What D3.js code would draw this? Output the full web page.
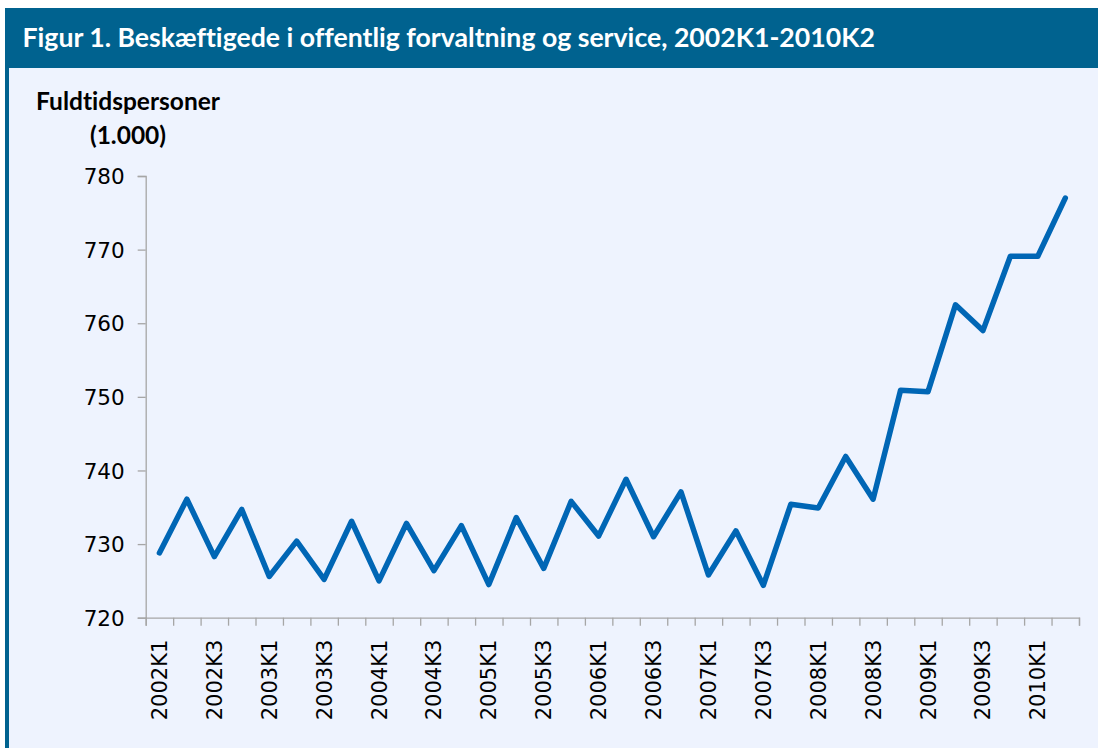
<!DOCTYPE html>
<html>
<head>
<meta charset="utf-8">
<script src="https://cdn.jsdelivr.net/npm/d3@7"></script>
<style>
  html, body { margin: 0; padding: 0; background: #ffffff; }
  svg { display: block; }
  text { font-variant-ligatures: none; font-feature-settings: "liga" 0, "clig" 0; }
</style>
</head>
<body>
<svg id="chart" width="1098" height="748"></svg>
<script>
const titleText = "Figur 1. Beskæftigede i offentlig forvaltning og service, 2002K1-2010K2";
const yLabelLines = ["Fuldtidspersoner", "(1.000)"];

const years = [2002, 2003, 2004, 2005, 2006, 2007, 2008, 2009, 2010];
const categories = [];
years.forEach(y => { for (let q = 1; q <= 4; q++) { if (y === 2010 && q > 2) break; categories.push(y + "K" + q); } });

const values = [
  728.8, 736.1, 728.3, 734.7, 725.6, 730.4, 725.2, 733.1,
  725.0, 732.8, 726.4, 732.5, 724.5, 733.6, 726.7, 735.8,
  731.1, 738.8, 731.0, 737.1, 725.8, 731.8, 724.4, 735.4,
  734.9, 741.9, 736.1, 750.9, 750.7, 762.5, 759.0, 769.1,
  769.1, 777.0
];

const yTicks = [720, 730, 740, 750, 760, 770, 780];

const svg = d3.select("#chart");
const W = 1098, H = 748;

// background panel
svg.append("rect").attr("x", 5).attr("y", 8).attr("width", W - 5).attr("height", H - 8).attr("fill", "#eef3fe");
svg.append("rect").attr("x", 5).attr("y", 8).attr("width", 4).attr("height", H - 8).attr("fill", "#00628f");
svg.append("rect").attr("x", 5).attr("y", 8).attr("width", W - 5).attr("height", 60).attr("fill", "#00628f");

// title
const title = svg.append("text")
  .attr("x", 22.5).attr("y", 46.5)
  .attr("fill", "#ffffff")
  .attr("font-family", "Lato, 'Open Sans', sans-serif")
  .attr("font-weight", "bold")
  .attr("font-size", 24)
  .text(titleText);
{
  const w = title.node().getComputedTextLength();
  title.attr("font-size", 24 * 853 / w);
}

// y label
const yl = yLabelLines.map((t, i) => svg.append("text")
    .attr("x", 128).attr("y", i === 0 ? 110 : 144)
    .attr("text-anchor", "middle")
    .attr("fill", "#000000")
    .attr("font-family", "Lato, 'Open Sans', sans-serif")
    .attr("font-weight", "bold")
    .attr("font-size", 20)
    .text(t));
{
  const w = yl[0].node().getComputedTextLength();
  const fs = 20 * 184 / w;
  yl.forEach(el => el.attr("font-size", fs));
}

const x0 = 145.7, x1 = 1079, yTop = 176, yBot = 617.7;

const x = d3.scaleBand().domain(categories).range([x0, x1]).paddingInner(0).paddingOuter(0);
const xEdge = d3.scaleLinear().domain([0, categories.length]).range([x0, x1]);
const y = d3.scaleLinear().domain([720, 780]).range([yBot, yTop]);

const axisColor = "#a6a6a6";

// Y axis
const yAxis = svg.append("g")
  .attr("transform", `translate(${x0},0)`)
  .call(d3.axisLeft(y).tickValues(yTicks).tickSize(8).tickPadding(13).tickFormat(d3.format("d")));
yAxis.select(".domain").attr("stroke", axisColor).attr("stroke-width", 1.3);
yAxis.selectAll(".tick line").attr("stroke", axisColor).attr("stroke-width", 1.3);
yAxis.selectAll(".tick text")
  .attr("font-family", "'DejaVu Sans', sans-serif")
  .attr("font-size", 21.5)
  .attr("fill", "#000000")
  .attr("dy", "0.36em");

// X axis boundary ticks
const xAxis = svg.append("g")
  .attr("transform", `translate(0,${yBot})`)
  .call(d3.axisBottom(xEdge).tickValues(d3.range(0, categories.length + 1)).tickSize(8).tickFormat(""));
xAxis.select(".domain").attr("stroke", axisColor).attr("stroke-width", 1.3);
xAxis.selectAll(".tick line").attr("stroke", axisColor).attr("stroke-width", 1.3);

// X labels via band axis
const xLab = svg.append("g")
  .attr("transform", `translate(0,${yBot})`)
  .call(d3.axisBottom(x).tickValues(categories.filter((c, i) => i % 2 === 0)).tickSize(0).tickPadding(0));
xLab.select(".domain").remove();
xLab.selectAll(".tick text")
  .attr("font-family", "'DejaVu Sans', sans-serif")
  .attr("font-size", 21)
  .attr("fill", "#000000")
  .attr("text-anchor", "end")
  .attr("transform", "translate(0,22) rotate(-90)")
  .attr("x", 0).attr("y", 0)
  .attr("dy", "0.36em");

// line
const line = d3.line()
  .x((d, i) => x(categories[i]) + x.bandwidth() / 2)
  .y(d => y(d));

svg.append("path")
  .datum(values)
  .attr("d", line)
  .attr("fill", "none")
  .attr("stroke", "#0066b5")
  .attr("stroke-width", 5.5)
  .attr("stroke-linejoin", "round")
  .attr("stroke-linecap", "round");
</script>
</body>
</html>
